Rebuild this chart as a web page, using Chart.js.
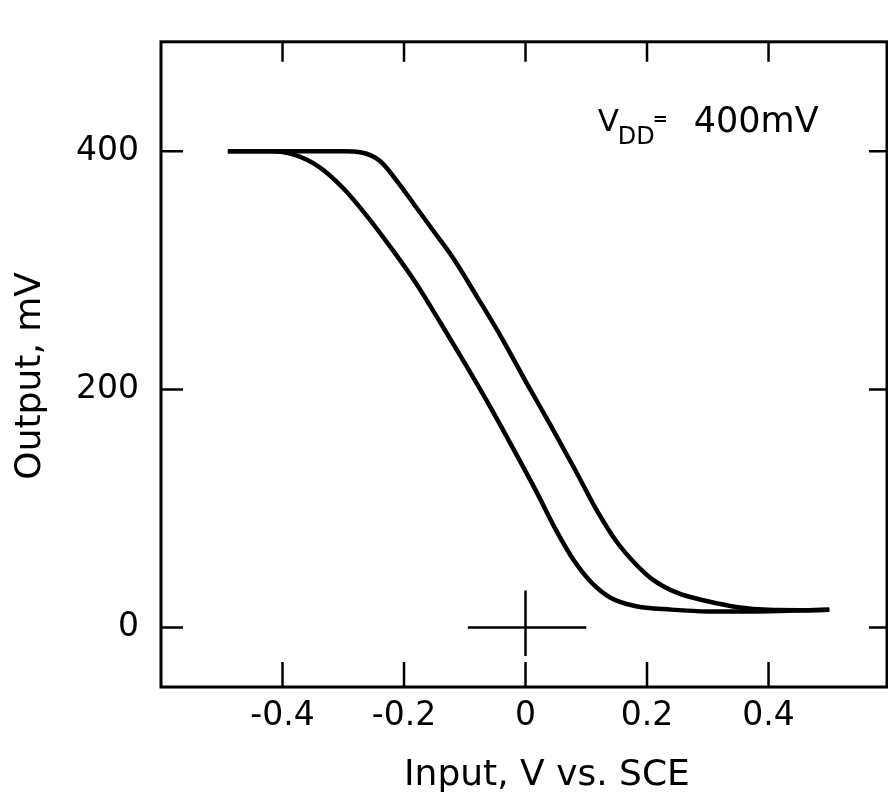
<!DOCTYPE html>
<html><head><meta charset="utf-8">
<script src="https://cdn.jsdelivr.net/npm/chart.js@4.4.1/dist/chart.umd.min.js"></script>
<style>html,body{margin:0;padding:0;background:#fff;overflow:hidden}</style>
</head><body>
<canvas id="c" width="888" height="801"></canvas>
<script>
// ---- data ----
const xTicks = [-0.4, -0.2, 0, 0.2, 0.4];
const xTickLabels = ['-0.4', '-0.2', '0', '0.2', '0.4'];
const yTicks = [0, 200, 400];
const yTickLabels = ['0', '200', '400'];

// left (lower) transfer curve
const curveA_x = [-0.49, -0.42, -0.38, -0.34, -0.30, -0.26, -0.22, -0.18, -0.14, -0.10, -0.06, -0.02, 0.02, 0.05, 0.08, 0.11, 0.14, 0.18, 0.24, 0.30, 0.37, 0.44, 0.50];
const curveA_y = [400, 400, 397, 387, 369, 345, 318, 289, 256, 222, 187, 150, 112, 82, 56, 37, 25, 18, 15, 13.5, 13.5, 14.2, 14.8];

// right (upper) transfer curve
const curveB_x = [-0.49, -0.30, -0.27, -0.24, -0.21, -0.18, -0.15, -0.12, -0.08, -0.04, 0.00, 0.04, 0.08, 0.12, 0.15, 0.18, 0.21, 0.25, 0.30, 0.35, 0.40, 0.45, 0.50];
const curveB_y = [400, 400, 399, 392, 374, 353, 332, 311, 278, 244, 207, 171, 134, 96, 72, 54, 40, 29, 22, 17, 14.8, 14.5, 14.8];

// origin cross mark
const crossH_x = [-0.095, 0.1];
const crossH_y = [0, 0];
const crossV_x = [0, 0];
const crossV_y = [-24, 31];

const xTitle = 'Input, V vs. SCE';
const yTitle = 'Output, mV';
const noteV = 'V', noteSub = 'DD', noteEq = '=', noteValue = '400mV';
const noteAt = {x: 0.119, y: 417};

const pts = (xs, ys) => xs.map((v, i) => ({x: v, y: ys[i]}));
const FONT = 'DejaVu Sans';

const frame = {
  id: 'frame',
  afterDatasetsDraw(chart) {
    const {ctx, chartArea: a, scales: {x, y}} = chart;
    ctx.save();
    ctx.strokeStyle = '#000';
    ctx.lineWidth = 3;
    ctx.strokeRect(a.left, a.top, a.right - a.left, a.bottom - a.top);
    ctx.beginPath();
    xTicks.forEach(v => {
      const p = x.getPixelForValue(v);
      ctx.moveTo(p, a.bottom); ctx.lineTo(p, a.bottom - 25);
      ctx.moveTo(p, a.top); ctx.lineTo(p, a.top + 20);
    });
    yTicks.forEach(v => {
      const p = y.getPixelForValue(v);
      ctx.moveTo(a.left, p); ctx.lineTo(a.left + 22, p);
      ctx.moveTo(a.right, p); ctx.lineTo(a.right - 18, p);
    });
    ctx.lineWidth = 2.5;
    ctx.stroke();

    // V_DD annotation
    const ax = x.getPixelForValue(noteAt.x), ay = y.getPixelForValue(noteAt.y);
    ctx.fillStyle = '#000';
    ctx.textBaseline = 'alphabetic';
    ctx.textAlign = 'left';
    ctx.font = '31px "' + FONT + '"';
    ctx.fillText(noteV, ax, ay);
    ctx.font = '24px "' + FONT + '"';
    ctx.fillText(noteSub, ax + 20, ay + 13);
    ctx.font = 'bold 18px "' + FONT + '"';
    ctx.fillText(noteEq, ax + 55, ay - 6);
    ctx.font = '35px "' + FONT + '"';
    ctx.fillText(noteValue, ax + 96, ay + 1);
    ctx.restore();
  }
};

new Chart(document.getElementById('c'), {
  type: 'scatter',
  data: {
    datasets: [
      {data: pts(curveA_x, curveA_y), showLine: true, borderColor: '#000', borderWidth: 4.5, pointRadius: 0, cubicInterpolationMode: 'monotone'},
      {data: pts(curveB_x, curveB_y), showLine: true, borderColor: '#000', borderWidth: 4.5, pointRadius: 0, cubicInterpolationMode: 'monotone'},
      {data: pts(crossH_x, crossH_y), showLine: true, borderColor: '#000', borderWidth: 2.5, pointRadius: 0, tension: 0},
      {data: pts(crossV_x, crossV_y), showLine: true, borderColor: '#000', borderWidth: 2.5, pointRadius: 0, tension: 0}
    ]
  },
  options: {
    responsive: false,
    animation: false,
    devicePixelRatio: 1,
    layout: {padding: {top: 28, right: 1, left: 0, bottom: 0}},
    plugins: {legend: {display: false}, tooltip: {enabled: false}},
    scales: {
      x: {
        type: 'linear', min: -0.6, max: 0.595,
        afterBuildTicks: s => { s.ticks = xTicks.map(v => ({value: v})); },
        afterFit: s => { s.height = 114; },
        grid: {display: false, drawTicks: false},
        border: {display: false},
        ticks: {color: '#000', font: {family: FONT, size: 33}, padding: 10, maxRotation: 0, autoSkip: false,
                callback: (v, i) => xTickLabels[i]},
        title: {display: true, text: '    ' + xTitle, color: '#000', font: {family: FONT, size: 36}, padding: {top: 0, bottom: 4}}
      },
      y: {
        type: 'linear', min: -50, max: 492,
        afterBuildTicks: s => { s.ticks = yTicks.map(v => ({value: v})); },
        afterFit: s => { s.width = 161; },
        grid: {display: false, drawTicks: false},
        border: {display: false},
        ticks: {color: '#000', font: {family: FONT, size: 33}, padding: 22, autoSkip: false,
                callback: (v, i) => yTickLabels[i]},
        title: {display: true, text: yTitle + '  ', color: '#000', font: {family: FONT, size: 36}, padding: {top: 9, bottom: 0}}
      }
    }
  },
  plugins: [frame]
});
</script>
</body></html>
